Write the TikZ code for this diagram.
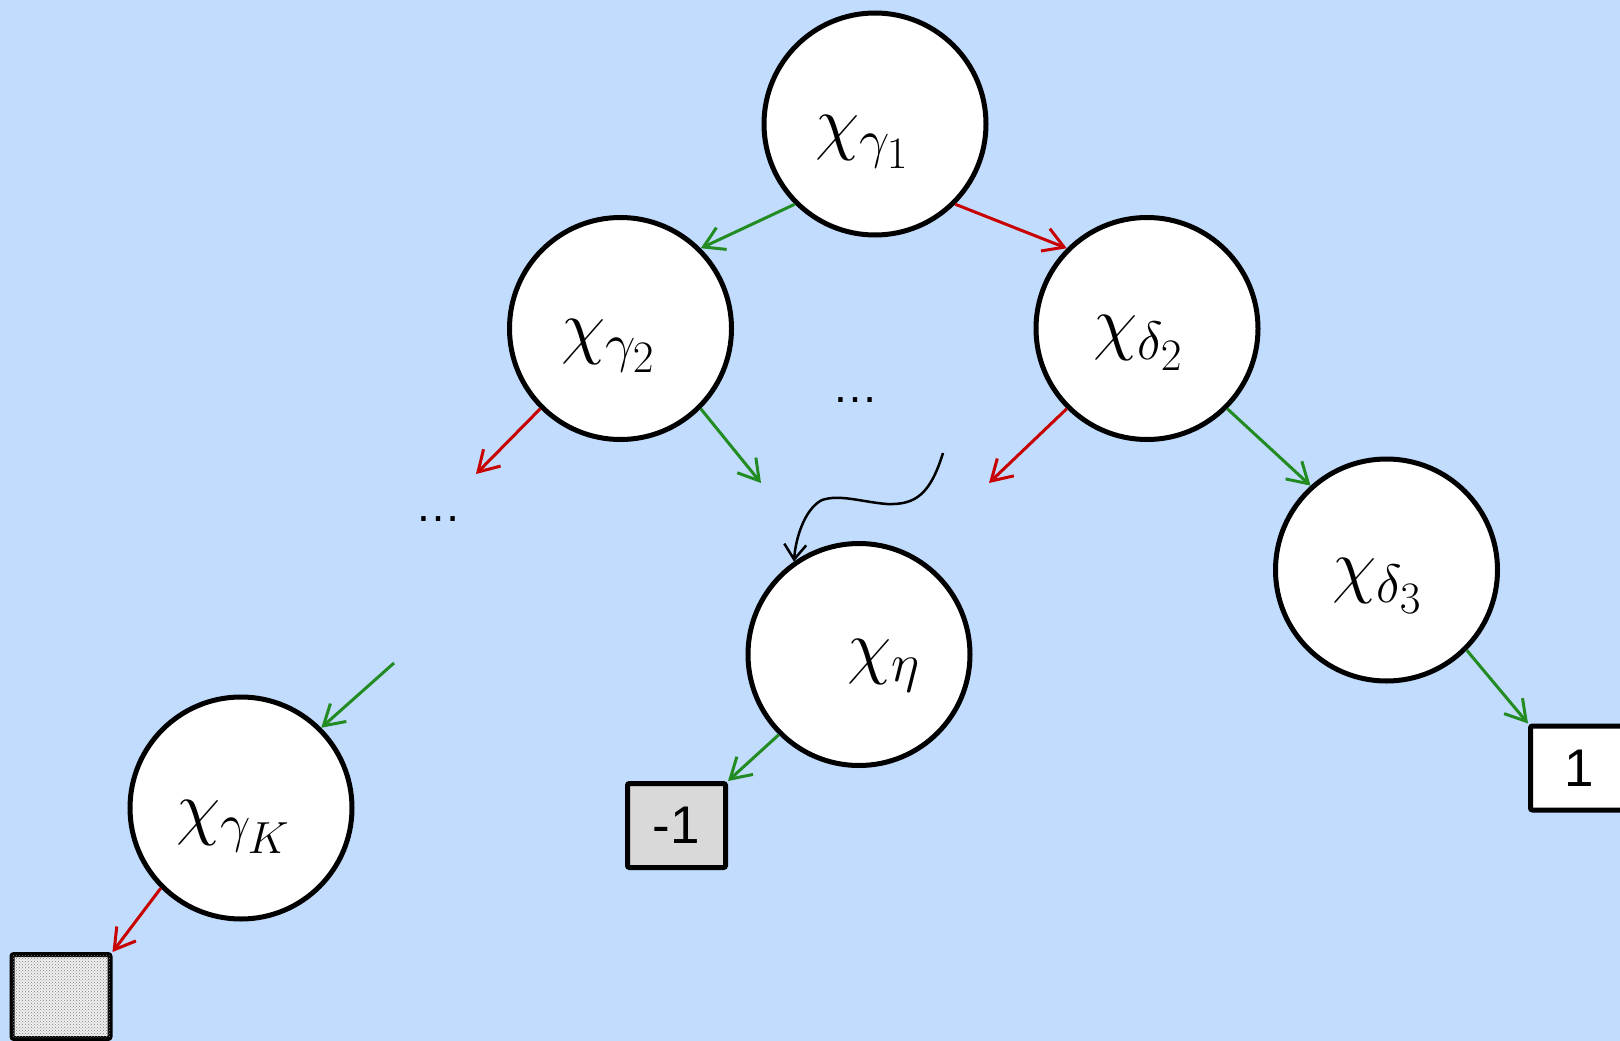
\RequirePackage{fix-cm}
\documentclass[tikz,border=0pt]{standalone}
\usepackage{fontspec}
\newfontfamily\arialf{Liberation Sans}
\DeclareMathSizes{72}{72}{54}{45}
\usetikzlibrary{arrows.meta,patterns}
\definecolor{bgblue}{RGB}{193,220,253}
\definecolor{arrgreen}{RGB}{34,139,34}
\definecolor{arrred}{RGB}{200,0,0}
\definecolor{boxgray}{RGB}{217,217,217}
\begin{document}
\begin{tikzpicture}[x=1pt,y=-1pt,
  circ/.style={circle,draw,line width=5pt,fill=white,minimum size=222pt,inner sep=0pt},
  lab/.style={font=\fontsize{72}{80}\selectfont,inner sep=0pt},
  bx/.style={draw,line width=5pt,rounded corners=2pt,minimum width=98pt,minimum height=84pt,inner sep=0pt,font=\arialf\fontsize{53}{60}\selectfont},
  dots/.style={font=\arialf\fontsize{46}{50}\selectfont,inner sep=0pt},
  gr/.style={draw=arrgreen,line width=3pt,-{Straight Barb[length=20pt,width=24pt]}},
  rd/.style={draw=arrred,line width=3pt,-{Straight Barb[length=20pt,width=24pt]}},
  curly/.style={draw=black,line width=2.5pt,-{Straight Barb[length=15pt,width=22pt]}}
]
\fill[bgblue] (0,0) rectangle (1620,1041);
\useasboundingbox (0,0) rectangle (1620,1041);

% circles
\node[circ] (g1) at (875,124) {};
\node[circ] (g2) at (620.5,328.5) {};
\node[circ] (d2) at (1147,328.5) {};
\node[circ] (d3) at (1386.5,570) {};
\node[circ] (eta) at (859,654.5) {};
\node[circ] (gK) at (241,808) {};

% labels
\node[lab] (tg1) at (862,142) {$\chi_{\gamma_1}$};
\node[lab] (tg2) at (608,346) {$\chi_{\gamma_2}$};
\node[lab] (td2) at (1138,343) {$\chi_{\delta_2}$};
\node[lab] (td3) at (1377,586) {$\chi_{\delta_3}$};
\node[lab] (teta) at (884,666) {$\chi_{\eta}$};
\node[lab] (tgK) at (233,827) {$\chi_{\gamma_K}$};

% boxes
\node[bx,fill=boxgray] (mone) at (676.5,825.5) {-1};
\node[bx,fill=white] (one) at (1579.5,768) {1};
\node[bx,fill=gray!12,postaction={pattern=crosshatch dots,pattern color=black!50}] (leaf) at (61,996.5) {};

% dots
\node[dots] (dd1) at (855,400) {…};
\node[dots] (dd2) at (438,519) {…};

% free ends
\coordinate (c1) at (476,474);
\coordinate (c2) at (761,483);
\coordinate (c3) at (989,483);
\coordinate (c4) at (394,663);
\coordinate (c5) at (943,453);

% connectors
\draw[gr] (g1.225) -- (g2.45);
\draw[rd] (g1.315) -- (d2.135);
\draw[rd] (g2.225) -- (c1);
\draw[gr] (g2.315) -- (c2);
\draw[rd] (d2.225) -- (c3);
\draw[gr] (d2.315) -- (d3.132);
\draw[gr] (d3.315) -- (one.north west);
\draw[gr] (eta.225) -- (mone.north east);
\draw[gr] (c4) -- (gK.45);
\draw[rd] (gK.225) -- (leaf.north east);
\draw[curly] (c5) .. controls (930,495) and (915,505) .. (887,504)
  .. controls (862,502) and (840,494) .. (822,500)
  .. controls (806,508) and (796,535) .. (eta.125);
\end{tikzpicture}
\end{document}
